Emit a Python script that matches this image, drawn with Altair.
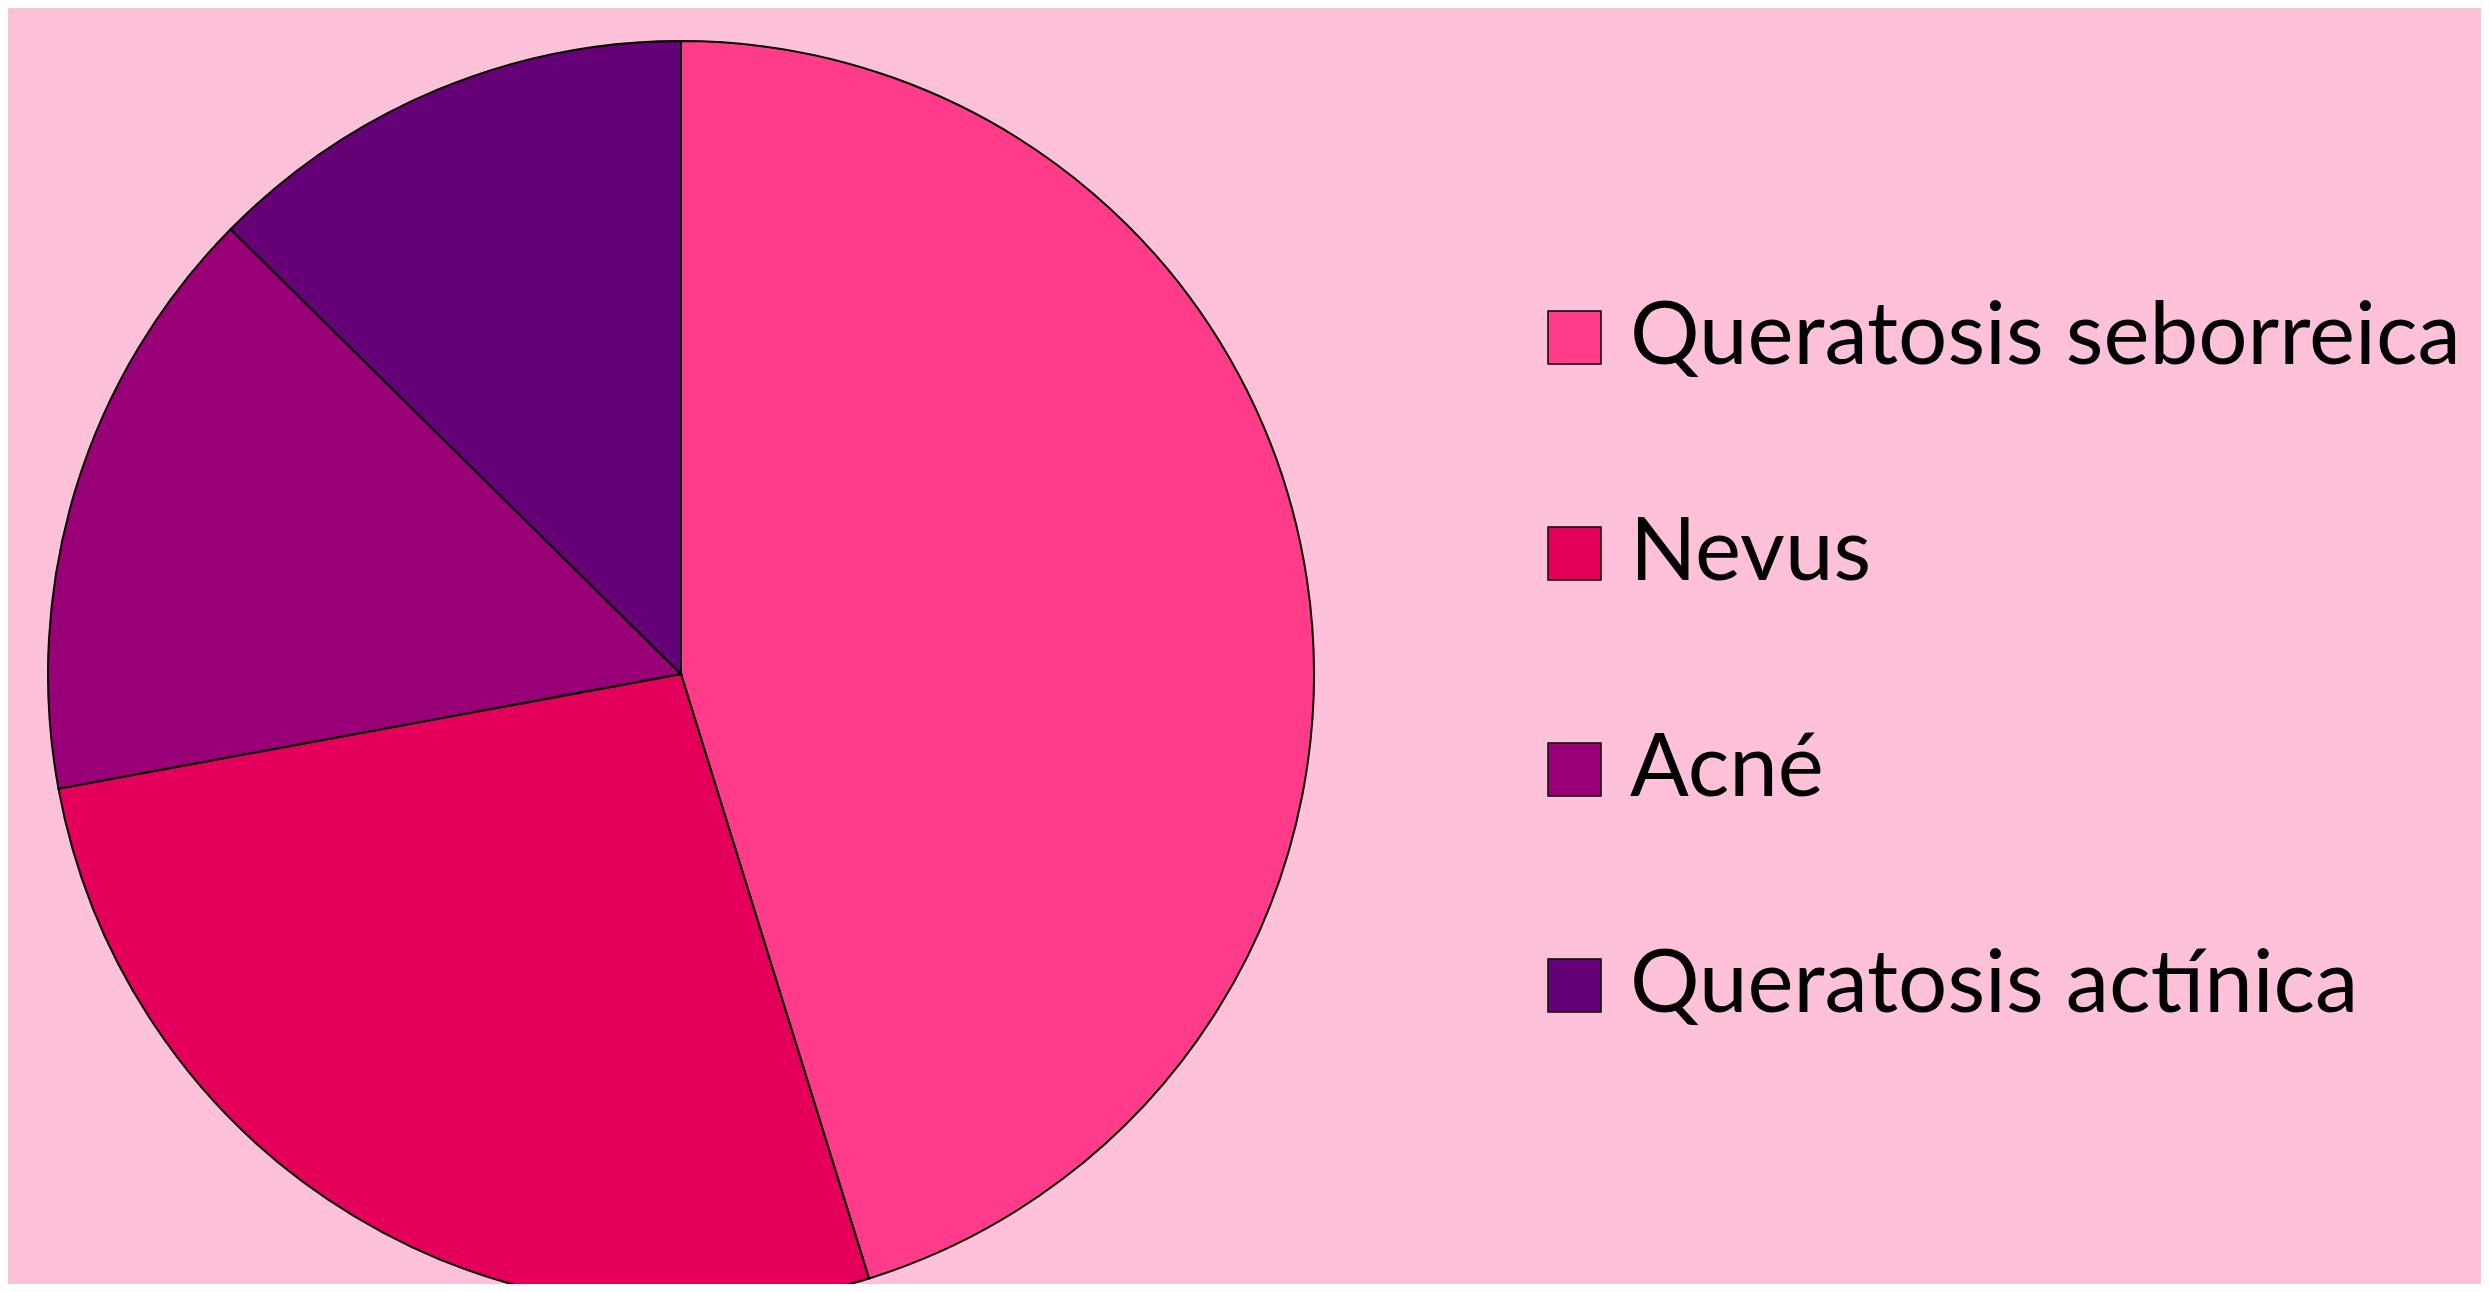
import altair as alt
import pandas as pd

categories = ["Queratosis seborreica", "Nevus", "Acné", "Queratosis actínica"]
values = [45.2, 26.9, 15.3, 12.6]
colors = ["#FF3B8A", "#E4005A", "#990077", "#660077"]

df = pd.DataFrame({"cat": categories, "val": values, "idx": list(range(len(categories)))})

chart = (
    alt.Chart(df)
    .mark_arc(radius=633, stroke="black", strokeWidth=2)
    .encode(
        theta=alt.Theta("val:Q", stack=True),
        order=alt.Order("idx:Q"),
        x=alt.value(673),
        y=alt.value(666),
        color=alt.Color(
            "cat:N",
            scale=alt.Scale(domain=categories, range=colors),
            sort=categories,
            legend=alt.Legend(
                title=None,
                orient="none",
                legendX=1523,
                legendY=286,
                padding=0,
                symbolType="square",
                symbolSize=2809,
                symbolStrokeColor="black",
                symbolStrokeWidth=1.5,
                symbolOpacity=1,
                labelFont="Lato",
                labelFontSize=87,
                labelColor="black",
                labelOffset=12,
                labelLimit=2000,
                rowPadding=128,
            ),
        ),
    )
    .properties(width=2473, height=1276, background="#FFC0D9", padding=0, autosize="none")
    .configure_view(stroke=None)
)

chart.save("out.html", embed_options={"renderer": "svg", "actions": False})
